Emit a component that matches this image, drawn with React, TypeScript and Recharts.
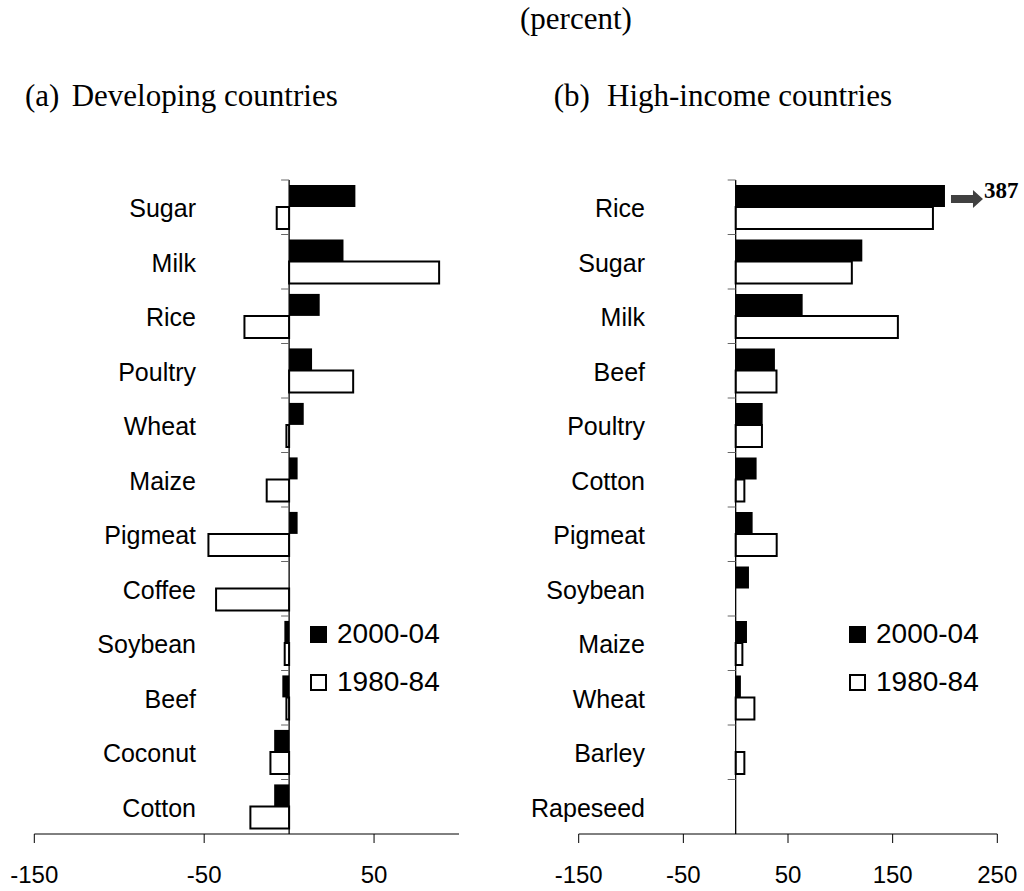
import React from 'react';
import { BarChart, Bar, XAxis, YAxis, ReferenceLine, Legend, LabelList } from 'recharts';

// ---------- data ----------
const devCategories = ['Sugar', 'Milk', 'Rice', 'Poultry', 'Wheat', 'Maize', 'Pigmeat', 'Coffee', 'Soybean', 'Beef', 'Coconut', 'Cotton'];
const dev2000 = [39, 32, 18, 13.5, 8.6, 5, 5, 0, -2.8, -4, -8.8, -8.8];
const dev1980 = [-7.3, 88.3, -26.3, 37.7, -1.6, -13.2, -47.5, -43, -2.6, -1.6, -11, -22.8];

const hiCategories = ['Rice', 'Sugar', 'Milk', 'Beef', 'Poultry', 'Cotton', 'Pigmeat', 'Soybean', 'Maize', 'Wheat', 'Barley', 'Rapeseed'];
const hi2000 = [387, 121, 64, 37.5, 25.8, 20, 16.2, 12.7, 10.8, 5, 0, 0];
const hi1980 = [188.5, 111, 155, 39, 25.1, 8.3, 39.2, 0, 6.4, 17.9, 8.3, 0];

const devTicks = [-150, -50, 50];
const hiTicks = [-150, -50, 50, 150, 250];
const devDomain: [number, number] = [-150, 100];
const hiDomain: [number, number] = [-150, 250];
const HI_BAR_CAP = 200;

const SERIES = [
  { key: 'v2000', name: '2000-04', fill: '#000000', stroke: 'none' },
  { key: 'v1980', name: '1980-84', fill: '#ffffff', stroke: '#000000' },
];

const devData = devCategories.map((name, i) => ({ name, v2000: dev2000[i], v1980: dev1980[i] }));
const hiData = hiCategories.map((name, i) => ({
  name,
  v2000: Math.min(hi2000[i], HI_BAR_CAP),
  v2000actual: hi2000[i],
  v1980: hi1980[i],
}));

// ---------- layout ----------
const CHART_H = 891;
const PLOT_TOP = 180;
const PLOT_BOTTOM = 834;
const X_AXIS_H = 50;
const Y_AXIS_W = 30;
const SANS = '"Liberation Sans", Arial, sans-serif';
const SERIF = '"Liberation Serif", "Times New Roman", serif';

type PanelProps = {
  data: any[];
  domain: [number, number];
  ticks: number[];
  chartLeft: number;
  chartWidth: number;
  plotLeft: number; // relative to chart
  plotRight: number; // relative to chart
  labelRight: number; // relative to chart
  legendLeft: number;
  legendTop: number;
  showOverflow?: boolean;
};

const renderLegend = () => (
  <div style={{ fontFamily: SANS, fontSize: 28, color: '#000' }}>
    {SERIES.map((s) => (
      <div key={s.key} style={{ display: 'flex', alignItems: 'center', height: 48 }}>
        <div
          style={{
            width: 17,
            height: 17,
            boxSizing: 'border-box',
            background: s.fill,
            border: '2px solid #000',
            marginRight: 10,
          }}
        />
        <span>{s.name}</span>
      </div>
    ))}
  </div>
);

const renderOverflow = (props: any) => {
  const { x, y, width, height, value } = props;
  if (value == null || value <= HI_BAR_CAP) return null;
  const sx = Number(x) + Number(width) + 6;
  const cy = Number(y) + Number(height) / 2 + 3;
  const pts = [
    [sx, cy - 4],
    [sx + 22, cy - 4],
    [sx + 22, cy - 9],
    [sx + 32, cy],
    [sx + 22, cy + 9],
    [sx + 22, cy + 4],
    [sx, cy + 4],
  ]
    .map((p) => p.join(','))
    .join(' ');
  return (
    <g>
      <polygon points={pts} fill="#404040" />
      <text x={sx + 33} y={Number(y) + Number(height) / 2 + 2.5} fontFamily={SERIF} fontWeight="bold" fontSize={23} fill="#000">
        {value}
      </text>
    </g>
  );
};

function Panel(p: PanelProps) {
  const plotW = p.plotRight - p.plotLeft;
  const zeroX = p.plotLeft + ((0 - p.domain[0]) / (p.domain[1] - p.domain[0])) * plotW;
  const band = (PLOT_BOTTOM - PLOT_TOP) / p.data.length;

  const YTick = (props: any) => {
    const { y, payload } = props;
    return (
      <g>
        <text x={p.labelRight} y={y} dy={10} textAnchor="end" fontFamily={SANS} fontSize={25} fill="#000">
          {payload.value}
        </text>
        <line x1={zeroX - 8} x2={zeroX} y1={y - band / 2} y2={y - band / 2} stroke="#666" strokeWidth={1} />
      </g>
    );
  };

  return (
    <div style={{ position: 'absolute', left: p.chartLeft, top: 0 }}>
      <BarChart
        width={p.chartWidth}
        height={CHART_H}
        data={p.data}
        layout="vertical"
        barCategoryGap="9%"
        barGap={0}
        margin={{
          top: PLOT_TOP,
          left: p.plotLeft - Y_AXIS_W,
          right: p.chartWidth - p.plotRight,
          bottom: CHART_H - PLOT_BOTTOM - X_AXIS_H,
        }}
      >
        <XAxis
          type="number"
          domain={p.domain}
          ticks={p.ticks}
          allowDataOverflow
          height={X_AXIS_H}
          axisLine={{ stroke: '#000', strokeWidth: 1 }}
          tickLine={{ stroke: '#000', strokeWidth: 1 }}
          tickSize={9}
          tickMargin={23}
          tick={{ fill: '#000', fontSize: 24, fontFamily: SANS }}
        />
        <YAxis
          type="category"
          dataKey="name"
          width={Y_AXIS_W}
          axisLine={false}
          tickLine={false}
          interval={0}
          tick={YTick}
        />
        <Legend
          layout="vertical"
          align="center"
          verticalAlign="middle"
          content={renderLegend}
          wrapperStyle={{ left: p.legendLeft, top: p.legendTop, width: 'auto', height: 'auto' }}
        />
        <Bar dataKey="v2000" name="2000-04" fill="#000000" isAnimationActive={false}>
          {p.showOverflow ? <LabelList dataKey="v2000actual" content={renderOverflow} /> : null}
        </Bar>
        <Bar dataKey="v1980" name="1980-84" fill="#ffffff" stroke="#000000" strokeWidth={2} isAnimationActive={false} />
        <ReferenceLine x={0} stroke="#000" strokeWidth={1.3} />
      </BarChart>
    </div>
  );
}

export default function App() {
  return (
    <div style={{ position: 'absolute', left: 0, top: 0, width: 1024, height: 891, background: '#fff', overflow: 'hidden' }}>
      <svg width={1024} height={891} style={{ position: 'absolute', left: 0, top: 0 }}>
        <text x={520} y={29} fontFamily={SERIF} fontSize={31} fill="#000">(percent)</text>
        <text x={25} y={106} fontFamily={SERIF} fontSize={31} fill="#000">(a)</text>
        <text x={71.7} y={106} fontFamily={SERIF} fontSize={31} fill="#000">Developing countries</text>
        <text x={553.7} y={106} fontFamily={SERIF} fontSize={31} fill="#000">(b)</text>
        <text x={607} y={106} fontFamily={SERIF} fontSize={31} fill="#000">High-income countries</text>
      </svg>
      <Panel
        data={devData}
        domain={devDomain}
        ticks={devTicks}
        chartLeft={0}
        chartWidth={480}
        plotLeft={34.3}
        plotRight={459}
        labelRight={196}
        legendLeft={310}
        legendTop={610}
      />
      <Panel
        data={hiData}
        domain={hiDomain}
        ticks={hiTicks}
        chartLeft={500}
        chartWidth={524}
        plotLeft={78.7}
        plotRight={497.3}
        labelRight={145}
        legendLeft={349}
        legendTop={610}
        showOverflow
      />
    </div>
  );
}
